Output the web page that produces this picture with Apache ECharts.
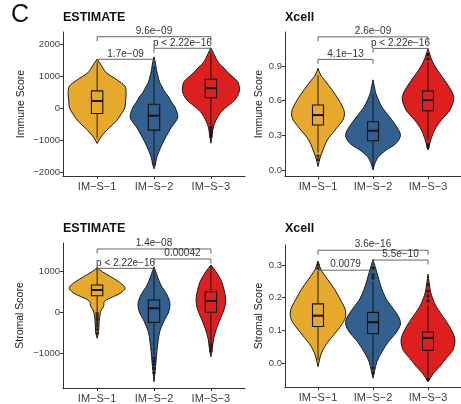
<!DOCTYPE html>
<html><head><meta charset="utf-8">
<script src="https://cdn.jsdelivr.net/npm/echarts@6/dist/echarts.min.js"></script>
<style>html,body{margin:0;padding:0;background:#fff}#c{width:461px;height:404px}</style>
</head><body><div id="c"></div>
<script>
const categories = ['IM-S-1', 'IM-S-2', 'IM-S-3'];
const positions = [1, 2, 3];

// ---- Panel A: ESTIMATE, Immune Score ----  [value, half-width in category units]
const estImmune1 = [[1530,0],[1400,.05],[1250,.10],[1090,.17],[880,.35],[680,.49],[450,.51],[240,.50],[30,.49],[-60,.47],[-200,.42],[-380,.35],[-540,.26],[-690,.17],[-900,.07],[-1000,.035],[-1110,0]];
const estImmune2 = [[1600,0],[1400,.026],[1200,.043],[985,.07],[800,.10],[670,.14],[500,.19],[340,.26],[180,.31],[25,.37],[-270,.42],[-450,.37],[-590,.31],[-900,.21],[-1220,.12],[-1530,.05],[-1750,.026],[-1900,0]];
const estImmune3 = [[1880,0],[1700,.05],[1550,.09],[1400,.14],[1250,.23],[1090,.31],[950,.40],[830,.47],[660,.50],[520,.50],[380,.47],[250,.42],[140,.35],[40,.28],[-70,.21],[-170,.16],[-380,.09],[-600,.043],[-800,.026],[-1100,0]];
const estImmuneBox = [[-950,-170,220,535,1400],[-1800,-690,-240,115,1300],[-530,325,620,900,1700]];
const estImmuneOut = [[3,-600],[3,-680],[3,-750],[3,-820],[3,-900]];
const estImmuneSig = [[1,2,1522],[1,3,2228],[2,3,1866]];
const estImmuneSigText = ['1.7e-09','9.6e-09','p < 2.22e-16'];
const estImmuneTicks = [-2000,-1000,0,1000,2000];

// ---- Panel B: Xcell, Immune Score ----
const xcImmune1 = [[0.88,0],[0.82,.05],[0.778,.12],[0.69,.26],[0.605,.38],[0.52,.47],[0.475,.48],[0.43,.45],[0.346,.31],[0.26,.17],[0.173,.09],[0.10,.035],[0.03,0]];
const xcImmune2 = [[0.78,0],[0.72,.026],[0.663,.05],[0.547,.16],[0.46,.30],[0.374,.43],[0.30,.50],[0.23,.42],[0.173,.24],[0.115,.10],[0.058,.035],[0.0,0]];
const xcImmune3 = [[1.05,0],[0.95,.07],[0.864,.17],[0.778,.30],[0.69,.42],[0.62,.47],[0.52,.40],[0.43,.24],[0.346,.12],[0.26,.05],[0.173,0]];
const xcImmuneBox = [[0.15,0.389,0.475,0.562,0.82],[0.02,0.253,0.34,0.417,0.66],[0.26,0.513,0.605,0.683,0.93]];
const xcImmuneOut = [[1,0.12],[1,0.09],[3,0.96],[3,1.0],[3,0.22],[3,0.2]];
const xcImmuneSig = [[1,2,0.957],[1,3,1.152],[2,3,1.052]];
const xcImmuneSigText = ['4.1e-13','2.6e-09','p < 2.22e-16'];
const xcImmuneTicks = [0.0,0.3,0.6,0.9];

// ---- Panel C: ESTIMATE, Stromal Score ----
const estStromal1 = [[1080,0],[983,.09],[861,.24],[739,.38],[640,.47],[577,.49],[500,.45],[415,.35],[340,.23],[293,.16],[230,.12],[171,.12],[100,.10],[49,.07],[-73,.05],[-236,.035],[-480,.026],[-640,0]];
const estStromal2 = [[1105,0],[902,.05],[659,.12],[415,.23],[212,.28],[8,.26],[-236,.17],[-480,.10],[-724,.07],[-968,.05],[-1212,.035],[-1456,.017],[-1700,0]];
const estStromal3 = [[1146,0],[983,.09],[739,.19],[495,.24],[293,.26],[90,.24],[-154,.17],[-398,.10],[-642,.05],[-886,.026],[-1090,0]];
const estStromalBox = [[10,398,537,659,1050],[-1060,-252,90,293,1050],[-760,-8,268,495,1140]];
const estStromalOut = [[1,-30],[1,-90],[1,-150],[1,-210],[1,-280],[1,-350],[1,-430],[1,-520],[2,-1120],[2,-1200],[2,-1280],[2,-1380],[2,-1480],[3,-800],[3,-870],[3,-950]];
const estStromalSig = [[1,2,1065],[1,3,1537],[2,3,1293]];
const estStromalSigText = ['p < 2.22e-16','1.4e-08','0.00042'];
const estStromalTicks = [-1000,0,1000];

// ---- Panel D: Xcell, Stromal Score ----
const xcStromal1 = [[0.312,0],[0.287,.05],[0.257,.17],[0.226,.30],[0.196,.40],[0.166,.49],[0.14,.50],[0.115,.42],[0.085,.28],[0.055,.14],[0.024,.05],[-0.011,0]];
const xcStromal2 = [[0.317,0],[0.277,.07],[0.236,.14],[0.196,.24],[0.166,.37],[0.14,.47],[0.12,.50],[0.095,.43],[0.065,.28],[0.034,.16],[0.004,.07],[-0.026,.026],[-0.046,0]];
const xcStromal3 = [[0.272,0],[0.216,.05],[0.176,.14],[0.145,.26],[0.115,.38],[0.085,.47],[0.065,.49],[0.039,.45],[0.014,.33],[-0.011,.21],[-0.031,.10],[-0.057,0]];
const xcStromalBox = [[0.01,0.112,0.145,0.181,0.28],[-0.007,0.09,0.125,0.155,0.25],[-0.045,0.039,0.077,0.095,0.178]];
const xcStromalOut = [[1,0.29],[1,0.30],[2,0.26],[2,0.27],[2,0.29],[2,-0.015],[2,-0.03],[3,0.19],[3,0.205],[3,0.22],[3,0.24],[3,-0.05]];
const xcStromalSig = [[1,2,0.284],[1,3,0.345],[2,3,0.315]];
const xcStromalSigText = ['0.0079','3.6e-16','5.5e-10'];
const xcStromalTicks = [0.0,0.1,0.2,0.3];

const FONT = '"Liberation Sans", Arial, sans-serif';
const COLORS = ['#E7A82E', '#33608F', '#DD1F1F'];
const minus = s => String(s).replace(/-/g, '\u2212');

const panels = [
  {title:'ESTIMATE', yName:'Immune Score', grid:{left:63, top:32, width:182, height:144}, yMin:-2125, yMax:2375, ticks:estImmuneTicks, fmt:v=>minus(v), nameGap:36,
   prof:[estImmune1,estImmune2,estImmune3], box:estImmuneBox, out:estImmuneOut, sig:estImmuneSig, sigText:estImmuneSigText},
  {title:'Xcell', yName:'Immune Score', grid:{left:285, top:32, width:184, height:144}, yMin:-0.052, yMax:1.194, ticks:xcImmuneTicks, fmt:v=>v.toFixed(1), nameGap:20,
   prof:[xcImmune1,xcImmune2,xcImmune3], box:xcImmuneBox, out:xcImmuneOut, sig:xcImmuneSig, sigText:xcImmuneSigText},
  {title:'ESTIMATE', yName:'Stromal Score', grid:{left:63, top:243, width:182, height:145}, yMin:-1854, yMax:1683, ticks:estStromalTicks, fmt:v=>minus(v), nameGap:37,
   prof:[estStromal1,estStromal2,estStromal3], box:estStromalBox, out:estStromalOut, sig:estStromalSig, sigText:estStromalSigText},
  {title:'Xcell', yName:'Stromal Score', grid:{left:285, top:245, width:184, height:142}, yMin:-0.073, yMax:0.361, ticks:xcStromalTicks, fmt:v=>v.toFixed(1), nameGap:20,
   prof:[xcStromal1,xcStromal2,xcStromal3], box:xcStromalBox, out:xcStromalOut, sig:xcStromalSig, sigText:xcStromalSigText}
];

const option = {
  animation:false,
  backgroundColor:'#fff',
  textStyle:{fontFamily:FONT},
  title:[
    {text:'C', left:11, top:3, padding:0, textStyle:{fontSize:25, fontWeight:'normal', color:'#111', fontFamily:FONT}},
    {text:'ESTIMATE', left:63, top:11, padding:0, textStyle:{fontSize:12.5, fontWeight:'bold', color:'#111', fontFamily:FONT}},
    {text:'Xcell', left:285, top:11, padding:0, textStyle:{fontSize:12.5, fontWeight:'bold', color:'#111', fontFamily:FONT}},
    {text:'ESTIMATE', left:63, top:222, padding:0, textStyle:{fontSize:12.5, fontWeight:'bold', color:'#111', fontFamily:FONT}},
    {text:'Xcell', left:285, top:222, padding:0, textStyle:{fontSize:12.5, fontWeight:'bold', color:'#111', fontFamily:FONT}}
  ],
  grid:[], xAxis:[], yAxis:[], series:[]
};

panels.forEach((p, k) => {
  option.grid.push(Object.assign({containLabel:false}, p.grid));
  option.xAxis.push({
    type:'value', gridIndex:k, min:0.4, max:3.6,
    axisLine:{show:true, onZero:false, lineStyle:{color:'#333', width:1}},
    axisTick:{show:true, customValues:positions, length:3, lineStyle:{color:'#333'}},
    axisLabel:{customValues:positions, formatter:v => minus(categories[Math.round(v)-1]), color:'#3d3d3d', fontSize:11, margin:5, fontFamily:FONT},
    splitLine:{show:false}
  });
  option.yAxis.push({
    type:'value', gridIndex:k, min:p.yMin, max:p.yMax,
    name:p.yName, nameLocation:'middle', nameGap:p.nameGap, nameRotate:90,
    nameTextStyle:{fontSize:10.5, color:'#222', fontFamily:FONT},
    axisLine:{show:true, onZero:false, lineStyle:{color:'#333', width:1}},
    axisTick:{show:true, customValues:p.ticks, length:3, lineStyle:{color:'#333'}},
    axisLabel:{customValues:p.ticks, formatter:p.fmt, color:'#3d3d3d', fontSize:9.5, margin:3, fontFamily:FONT},
    splitLine:{show:false}
  });
  // violins + boxplots
  option.series.push({
    type:'custom', xAxisIndex:k, yAxisIndex:k, clip:false,
    data:positions.map((x, i) => [x, p.box[i][2]]),
    encode:{x:0, y:1},
    renderItem:(params, api) => {
      const i = params.dataIndex;
      const x = api.value(0);
      const unit = api.size([1, 0])[0];
      const right = [], left = [];
      p.prof[i].forEach(([v, w]) => {
        const c = api.coord([x, v]);
        right.push([c[0] + w * unit, c[1]]);
        left.push([c[0] - w * unit, c[1]]);
      });
      const pts = right.concat(left.reverse());
      const b = p.box[i];
      const cx = api.coord([x, b[2]])[0];
      const yLo = api.coord([x, b[0]])[1], yQ1 = api.coord([x, b[1]])[1], yMed = api.coord([x, b[2]])[1],
            yQ3 = api.coord([x, b[3]])[1], yHi = api.coord([x, b[4]])[1];
      const bw = 0.1 * unit;
      const col = COLORS[i];
      return {type:'group', children:[
        {type:'polygon', shape:{points:pts, smooth:0.3}, style:{fill:col, stroke:'#1a1a1a', lineWidth:1}},
        {type:'line', shape:{x1:cx, y1:yLo, x2:cx, y2:yQ1}, style:{stroke:'#111', lineWidth:0.9}},
        {type:'line', shape:{x1:cx, y1:yQ3, x2:cx, y2:yHi}, style:{stroke:'#111', lineWidth:0.9}},
        {type:'rect', shape:{x:cx - bw, y:yQ3, width:2 * bw, height:yQ1 - yQ3}, style:{fill:col, stroke:'#111', lineWidth:1.1}},
        {type:'line', shape:{x1:cx - bw, y1:yMed, x2:cx + bw, y2:yMed}, style:{stroke:'#111', lineWidth:2}}
      ]};
    }
  });
  // outliers
  option.series.push({
    type:'scatter', xAxisIndex:k, yAxisIndex:k, data:p.out, symbolSize:3.5, z:5,
    itemStyle:{color:'#111'}, silent:true
  });
  // significance brackets
  option.series.push({
    type:'custom', xAxisIndex:k, yAxisIndex:k, clip:false,
    data:p.sig, encode:{x:[0,1], y:2}, z:6,
    renderItem:(params, api) => {
      const a = api.coord([api.value(0), api.value(2)]);
      const b = api.coord([api.value(1), api.value(2)]);
      const tip = 4.5;
      return {type:'group', children:[
        {type:'polyline', shape:{points:[[a[0], a[1] + tip],[a[0], a[1]],[b[0], b[1]],[b[0], b[1] + tip]]}, style:{stroke:'#555', lineWidth:0.9, fill:null}},
        {type:'text', x:(a[0] + b[0]) / 2, y:a[1] - 0.5, style:{text:minus(p.sigText[params.dataIndex]), fontSize:10, fill:'#333', align:'center', verticalAlign:'bottom', fontFamily:FONT}}
      ]};
    }
  });
});

const chart = echarts.init(document.getElementById('c'), null, {renderer:'canvas'});
chart.setOption(option);
</script>
</body></html>
